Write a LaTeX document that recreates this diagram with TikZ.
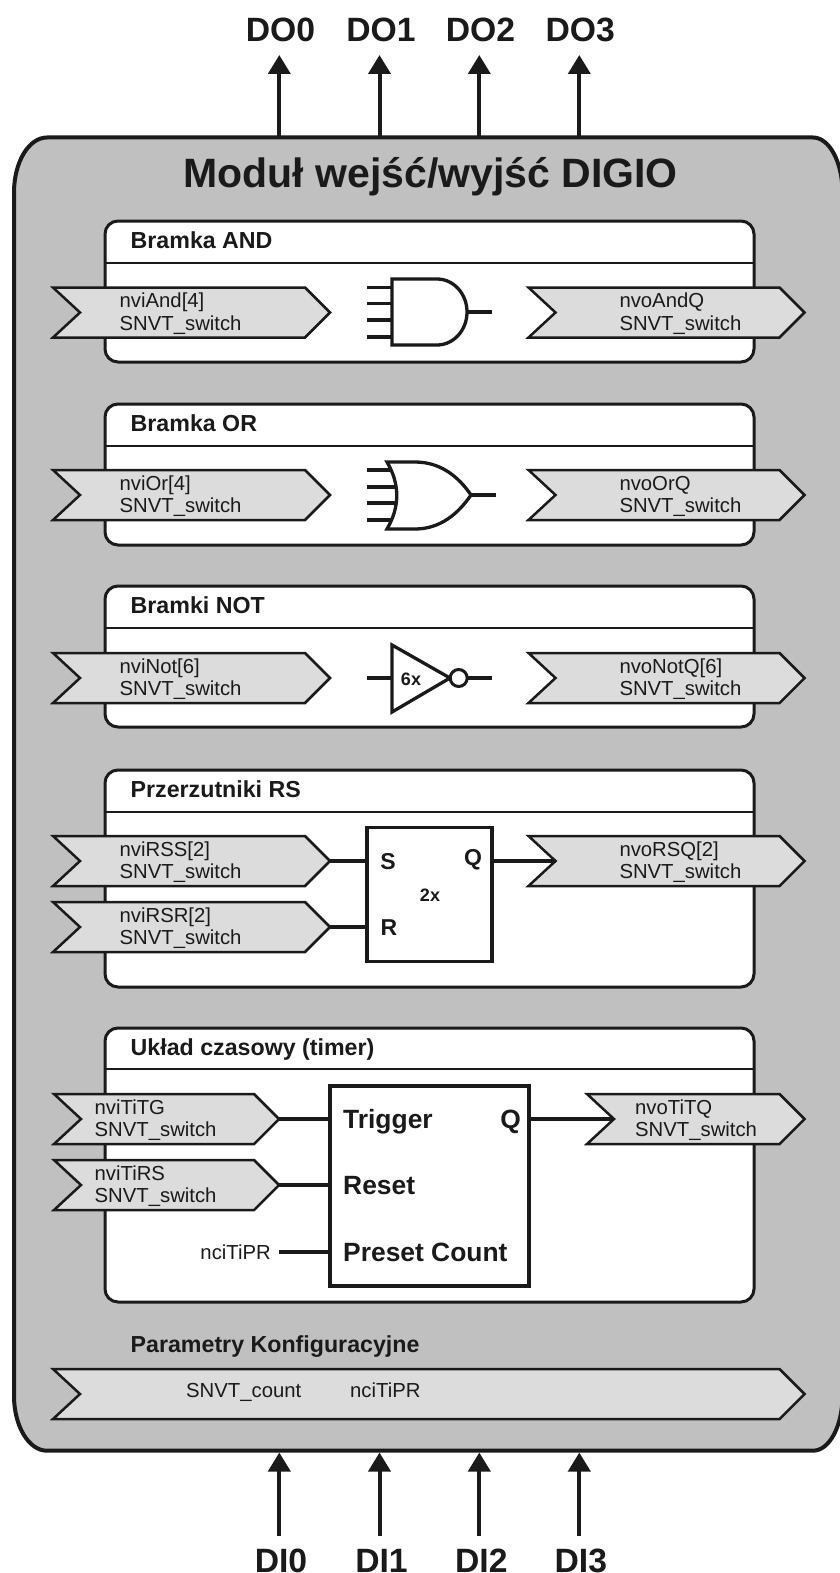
\documentclass[tikz,border=0pt]{standalone}
\usepackage{fontspec}
\setmainfont{Liberation Sans}
\usetikzlibrary{arrows.meta}
\definecolor{ink}{HTML}{1A1A1A}
\definecolor{modgray}{HTML}{C0C0C0}
\definecolor{flaggray}{HTML}{DCDCDC}
\tikzset{
  x=1pt,y=-1pt,
  modulebox/.style={draw=ink,line width=4pt,fill=modgray},
  panelbox/.style={draw=ink,line width=3pt,fill=white,rounded corners=13pt,inner sep=0,outer sep=0},
  divider/.style={draw=ink,line width=2.5pt},
  flagshape/.style={draw=ink,line width=2.5pt,fill=flaggray,line join=miter},
  gate/.style={draw=ink,line width=3.3pt,fill=white,line join=miter},
  wire/.style={draw=ink,line width=3.3pt},
  blockbox/.style={draw=ink,line width=3.5pt,fill=white,inner sep=0,outer sep=0},
  arrowwire/.style={draw=ink,line width=4pt,-{Triangle[length=19pt,width=22pt]}},
  lbl/.style={font=\fontsize{20.3}{24}\selectfont,text=ink,inner sep=0,anchor=base west},
  lblright/.style={lbl,anchor=base east},
  paneltitle/.style={font=\bfseries\fontsize{23.2}{26}\selectfont,text=ink,inner sep=0,anchor=base west},
  blocktitle/.style={font=\bfseries\fontsize{26.4}{30}\selectfont,text=ink,inner sep=0,anchor=base west},
  maintitle/.style={font=\bfseries\fontsize{41}{46}\selectfont,text=ink,inner sep=0,anchor=base},
  pinlabel/.style={font=\bfseries\fontsize{33.7}{38}\selectfont,text=ink,inner sep=0,anchor=base},
  pinletter/.style={font=\bfseries\fontsize{23}{26}\selectfont,text=ink,inner sep=0},
  mult/.style={font=\bfseries\fontsize{18}{20}\selectfont,text=ink,inner sep=0},
}
\newcommand{\flagbox}[7]{%
  \draw[flagshape] (#2,#4-25) -- (#3-25,#4-25) -- (#3,#4) -- (#3-25,#4+25) -- (#2,#4+25) -- (#2+27,#4) -- cycle;
  \coordinate (#1-tip) at (#3,#4);
  \coordinate (#1-notch) at (#2+27,#4);
  \node[lbl] (#1-a) at (#5,#4-5) {#6};
  \node[lbl] (#1-b) at (#5,#4+17.8) {#7};
}
\newcommand{\panelat}[5]{%
  \node[panelbox,minimum width=649pt,minimum height={#4-#2}] (#1) at (429.5,{(#2+#4)/2}) {};
  \coordinate (#1-dl) at (105,#3);
  \coordinate (#1-dr) at (754,#3);
  \draw[divider] (#1-dl) -- (#1-dr);
  \node[paneltitle] (#1-t) at (130.5,#2+27) {#5};
}
\begin{document}
\begin{tikzpicture}
\useasboundingbox (0,0) rectangle (840,1573);
% pins
\foreach \n/\cx in {0/279.3,1/379.5,2/479.3,3/579.3}{
  \coordinate (topa\n) at (\cx,137);
  \coordinate (topb\n) at (\cx,55);
  \coordinate (bota\n) at (\cx,1535.5);
  \coordinate (botb\n) at (\cx,1452.5);
  \draw[arrowwire] (topa\n) -- (topb\n);
  \draw[arrowwire] (bota\n) -- (botb\n);
}
\node[pinlabel] (do0) at (280.5,42) {DO0};
\node[pinlabel] (do1) at (381,42) {DO1};
\node[pinlabel] (do2) at (480.5,42) {DO2};
\node[pinlabel] (do3) at (580.3,42) {DO3};
\node[pinlabel] (di0) at (281,1572.5) {DI0};
\node[pinlabel] (di1) at (381.5,1572.5) {DI1};
\node[pinlabel] (di2) at (481.3,1572.5) {DI2};
\node[pinlabel] (di3) at (580.8,1572.5) {DI3};
% module
\draw[modulebox] (47,137.5) -- (813,137.5)
  arc[start angle=90,end angle=0,x radius=29.5pt,y radius=55pt] -- (842.5,1395.7)
  arc[start angle=0,end angle=-90,x radius=29.5pt,y radius=55pt] -- (47,1450.7)
  arc[start angle=270,end angle=180,x radius=33pt,y radius=55pt] -- (14,192.5)
  arc[start angle=180,end angle=90,x radius=33pt,y radius=55pt] -- cycle;
\node[maintitle] (title) at (430.5,187) {Moduł wejść/wyjść DIGIO};
% panels
\panelat{pand}{221}{263}{362}{Bramka AND}
\panelat{por}{404}{446}{545}{Bramka OR}
\panelat{pnot}{586}{628}{727}{Bramki NOT}
\panelat{prs}{770}{812}{987}{Przerzutniki RS}
\panelat{ptim}{1028}{1069}{1302}{Układ czasowy (timer)}
\node[paneltitle] (pcfg-t) at (130.5,1352) {Parametry Konfiguracyjne};
% flags
\flagbox{nviand}{53}{330}{312.5}{119.5}{nviAnd[4]}{SNVT\_switch}
\flagbox{nvoand}{528.5}{804.5}{312.5}{619.3}{nvoAndQ}{SNVT\_switch}
\flagbox{nvior}{53}{330}{495}{119.5}{nviOr[4]}{SNVT\_switch}
\flagbox{nvoor}{528.5}{804.5}{495}{619.3}{nvoOrQ}{SNVT\_switch}
\flagbox{nvinot}{53}{330}{678}{119.5}{nviNot[6]}{SNVT\_switch}
\flagbox{nvonot}{528.5}{804.5}{678}{619.3}{nvoNotQ[6]}{SNVT\_switch}
\flagbox{nvirss}{53}{330}{861}{119.5}{nviRSS[2]}{SNVT\_switch}
\flagbox{nvirsr}{53}{330}{927}{119.5}{nviRSR[2]}{SNVT\_switch}
\flagbox{nvorsq}{528.5}{804.5}{861}{619.3}{nvoRSQ[2]}{SNVT\_switch}
\flagbox{nvittg}{54}{279}{1119}{94.5}{nviTiTG}{SNVT\_switch}
\flagbox{nvitrs}{54}{279}{1185}{94.5}{nviTiRS}{SNVT\_switch}
\flagbox{nvotq}{587}{804.5}{1119}{635}{nvoTiTQ}{SNVT\_switch}
% config flag
\draw[flagshape] (53,1369) -- (779.5,1369) -- (804.5,1394) -- (779.5,1419) -- (53,1419) -- (80,1394) -- cycle;
\node[lbl] (cfg-a) at (186,1397) {SNVT\_count};
\node[lbl] (cfg-b) at (350,1397) {nciTiPR};
% AND gate
\foreach \yy in {287.7,303.5,320,337}{\draw[wire] (367,\yy) -- (392,\yy);}
\draw[wire] (467,312) -- (492.3,312);
\draw[gate] (392,279) -- (437,279) arc[start angle=90,end angle=-90,x radius=30pt,y radius=33pt] -- (392,345) -- cycle;
% OR gate
\foreach \yy in {470,487,503,520}{\draw[wire] (367,\yy) -- (395,\yy);}
\draw[wire] (470,495) -- (496,495);
\draw[gate] (387,462) -- (415,462) .. controls (440,462) and (458,476) .. (471,495)
  .. controls (458,514) and (440,529) .. (415,529) -- (387,529)
  .. controls (400,507) and (400,484) .. (387,462) -- cycle;
% NOT gate
\draw[wire] (367,678) -- (392,678);
\draw[wire] (467,678) -- (492,678);
\draw[gate] (392,645) -- (450,678) -- (392,712) -- cycle;
\node[mult] (sixx) at (411,679) {6x};
\node[draw=ink,line width=3pt,fill=white,circle,minimum size=17pt,inner sep=0] (bubble) at (458.7,678) {};
% RS block
\node[blockbox,minimum width=125pt,minimum height=134pt] (rs) at (429.7,894.5) {};
\node[pinletter] (rs-s) at (388,862) {S};
\node[pinletter] (rs-q) at (473,860) {Q};
\node[pinletter] (rs-r) at (389,928) {R};
\node[mult] (rs-m) at (430,895) {2x};
\draw[wire] (nvirss-tip) -- (nvirss-tip -| rs.west);
\draw[wire] (nvirsr-tip) -- (nvirsr-tip -| rs.west);
\draw[wire] (nvorsq-notch -| rs.east) -- (nvorsq-notch);
% timer block
\node[blockbox,minimum width=199pt,minimum height=200pt] (tim) at (429.5,1186) {};
\node[blocktitle] (tim-a) at (343,1128) {Trigger};
\node[blocktitle] (tim-b) at (343,1194) {Reset};
\node[blocktitle] (tim-c) at (343,1261) {Preset Count};
\node[blocktitle,anchor=base east] (tim-q) at (521,1128) {Q};
\node[lblright] (ncilbl) at (271,1259) {nciTiPR};
\coordinate (ncistart) at (279,1252);
\draw[wire] (nvittg-tip) -- (nvittg-tip -| tim.west);
\draw[wire] (nvitrs-tip) -- (nvitrs-tip -| tim.west);
\draw[wire] (ncistart) -- (ncistart -| tim.west);
\draw[wire] (nvotq-notch -| tim.east) -- (nvotq-notch);
\end{tikzpicture}
\end{document}
